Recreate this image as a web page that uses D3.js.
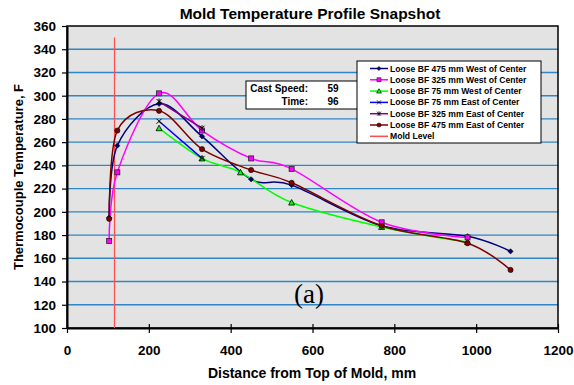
<!DOCTYPE html>
<html>
<head>
<meta charset="UTF-8">
<title>Mold Temperature Profile Snapshot</title>
<style>
  body { margin: 0; background: #fff; }
  svg { font-family: Arial, "Liberation Sans", sans-serif; }
  .lbl { font-size: 13.5px; font-weight: bold; fill: #000; }
  .leg { font-size: 8.6px; font-weight: bold; }
</style>
</head>
<body>
<div id="chart"></div>
<script src="https://d3js.org/d3.v7.min.js"></script>
<script>
// tick labels
const xTicks = [0, 200, 400, 600, 800, 1000, 1200];
const yTicks = d3.range(100, 361, 20);

// thermocouple positions (mm) and temperatures (F)
const w475Dist = [103, 123, 225, 330, 450, 549, 769, 979, 1084];
const w475Temp = [195, 257, 293, 265, 228, 223, 188, 179, 166];
const w325Dist = [103, 123, 225, 330, 450, 549, 769, 979];
const w325Temp = [175, 234, 302, 270, 246, 237, 191, 178];
const w75Dist = [225, 330, 424, 549, 769, 979];
const w75Temp = [272, 246, 234, 208, 187, 174];
const e75Dist = [225, 330];
const e75Temp = [278, 246];
const e325Dist = [225, 330];
const e325Temp = [295, 272];
const e475Dist = [103, 123, 225, 330, 450, 549, 769, 979, 1084];
const e475Temp = [194, 270, 287, 254, 236, 225, 188, 173, 150];

const moldLevel = 114;
const moldTop = 350;

const seriesNames = [
  "Loose BF 475 mm West of Center",
  "Loose BF 325 mm West of Center",
  "Loose BF 75 mm West of Center",
  "Loose BF 75 mm East of Center",
  "Loose BF 325 mm East of Center",
  "Loose BF 475 mm East of Center"
];
const castLabels = ["Cast Speed:", "Time:"];
const castValues = [59, 96];

const series = [
  { name: seriesNames[0], x: w475Dist, y: w475Temp, color: "#000080", mark: "diamond" },
  { name: seriesNames[1], x: w325Dist, y: w325Temp, color: "#ff00ff", mark: "square" },
  { name: seriesNames[2], x: w75Dist, y: w75Temp, color: "#00ff00", mark: "triangle" },
  { name: seriesNames[3], x: e75Dist, y: e75Temp, color: "#0000ff", mark: "x" },
  { name: seriesNames[4], x: e325Dist, y: e325Temp, color: "#800080", mark: "star" },
  { name: seriesNames[5], x: e475Dist, y: e475Temp, color: "#800000", mark: "circle" }
];

const W = 574, H = 385;
const pLeft = 67, pRight = 558, pTop = 26, pBottom = 328;
const moldColor = "#ff4d4d";

const svg = d3.select("#chart").append("svg")
  .attr("width", W).attr("height", H);

const x = d3.scaleLinear().domain([0, 1200]).range([pLeft, pRight]);
const y = d3.scaleLinear().domain([100, 360]).range([pBottom, pTop]);

// plot background
svg.append("rect")
  .attr("x", pLeft).attr("y", pTop)
  .attr("width", pRight - pLeft).attr("height", pBottom - pTop)
  .attr("fill", "#e3e3e3");

// grid
svg.append("g").selectAll("line")
  .data(yTicks.slice(1, -1))
  .enter().append("line")
  .attr("x1", pLeft).attr("x2", pRight)
  .attr("y1", d => y(d)).attr("y2", d => y(d))
  .attr("stroke", "#2f86c6").attr("stroke-width", 1.4);

// frame
svg.append("rect")
  .attr("x", pLeft).attr("y", pTop)
  .attr("width", pRight - pLeft).attr("height", pBottom - pTop)
  .attr("fill", "none").attr("stroke", "#000").attr("stroke-width", 1.5);

// axes
const xAxis = svg.append("g")
  .attr("transform", `translate(0,${pBottom})`)
  .call(d3.axisBottom(x).tickValues(xTicks).tickFormat(d3.format("d"))
    .tickSize(9).tickSizeOuter(0).tickPadding(8));
xAxis.selectAll(".tick line").attr("transform", "translate(0,-4)");
const yAxis = svg.append("g")
  .attr("transform", `translate(${pLeft},0)`)
  .call(d3.axisLeft(y).tickValues(yTicks).tickFormat(d3.format("d"))
    .tickSize(5).tickSizeOuter(0).tickPadding(6));
[xAxis, yAxis].forEach(a => {
  a.select(".domain").attr("stroke", "#000").attr("stroke-width", 2);
  a.selectAll(".tick line").attr("stroke", "#000").attr("stroke-width", 1.2);
  a.selectAll("text").attr("class", "lbl").attr("font-family", "Arial, 'Liberation Sans', sans-serif");
});

// mold level line
svg.append("line")
  .attr("x1", Math.round(x(moldLevel)) + 0.5).attr("x2", Math.round(x(moldLevel)) + 0.5)
  .attr("y1", y(moldTop)).attr("y2", y(100))
  .attr("stroke", moldColor).attr("stroke-width", 1.2);

// cast speed box
const cb = svg.append("g");
cb.append("rect").attr("x", 246).attr("y", 81).attr("width", 112).attr("height", 28)
  .attr("fill", "#fff").attr("stroke", "#000").attr("stroke-width", 1);
castLabels.forEach((t, i) => {
  cb.append("text").attr("x", 308).attr("y", 92 + i * 13)
    .attr("text-anchor", "end").attr("font-size", 10).attr("font-weight", "bold").text(t);
  cb.append("text").attr("x", 333).attr("y", 92 + i * 13)
    .attr("text-anchor", "middle").attr("font-size", 10).attr("font-weight", "bold").text(castValues[i]);
});

// markers
function drawMark(g, kind, color) {
  const s = 2.6;
  if (kind === "diamond") {
    g.append("path").attr("d", `M0,${-s}L${s},0L0,${s}L${-s},0Z`).attr("fill", color).attr("stroke", "#000").attr("stroke-width", 0.6);
  } else if (kind === "square") {
    g.append("rect").attr("x", -2.5).attr("y", -2.5).attr("width", 5).attr("height", 5)
      .attr("fill", color).attr("stroke", "#222").attr("stroke-width", 0.8);
  } else if (kind === "triangle") {
    g.append("path").attr("d", "M0,-3L3,2.5L-3,2.5Z").attr("fill", color).attr("stroke", "#000").attr("stroke-width", 0.8);
  } else if (kind === "x") {
    g.append("path").attr("d", "M-2.5,-2.5L2.5,2.5M-2.5,2.5L2.5,-2.5").attr("stroke", "#000").attr("stroke-width", 1);
  } else if (kind === "star") {
    g.append("path").attr("d", "M-2.5,-2.5L2.5,2.5M-2.5,2.5L2.5,-2.5M0,-3L0,3").attr("stroke", "#000").attr("stroke-width", 1);
  } else {
    g.append("circle").attr("r", 2.6).attr("fill", color).attr("stroke", "#000").attr("stroke-width", 0.6);
  }
}

const line = d3.line().curve(d3.curveCatmullRom.alpha(0));
series.forEach(s => {
  const pts = s.x.map((d, i) => [x(d), y(s.y[i])]);
  svg.append("path").attr("d", line(pts))
    .attr("fill", "none").attr("stroke", s.color).attr("stroke-width", 1.5);
});
series.forEach(s => {
  s.x.forEach((d, i) => {
    drawMark(svg.append("g").attr("transform", `translate(${x(d)},${y(s.y[i])})`), s.mark, s.color);
  });
});

// legend
const lg = svg.append("g");
lg.append("rect").attr("x", 357).attr("y", 61).attr("width", 184).attr("height", 82)
  .attr("fill", "#fff").attr("stroke", "#000").attr("stroke-width", 1);
series.concat([{ name: "Mold Level", color: moldColor, mark: null }]).forEach((s, i) => {
  const yy = 68.5 + i * 11.3;
  lg.append("line").attr("x1", 370).attr("x2", 388).attr("y1", yy).attr("y2", yy)
    .attr("stroke", s.color).attr("stroke-width", 1.5);
  if (s.mark) drawMark(lg.append("g").attr("transform", `translate(379,${yy}) scale(0.8)`), s.mark, s.color);
  lg.append("text").attr("class", "leg").attr("x", 390).attr("y", yy + 3).text(s.name);
});

// text
svg.append("text").attr("x", 310).attr("y", 19).attr("text-anchor", "middle")
  .attr("font-size", 15.5).attr("font-weight", "bold").text("Mold Temperature Profile Snapshot");
svg.append("text").attr("x", 312).attr("y", 378).attr("text-anchor", "middle")
  .attr("font-size", 14).attr("font-weight", "bold").text("Distance from Top of Mold, mm");
svg.append("text").attr("transform", `translate(23,177) rotate(-90)`)
  .attr("text-anchor", "middle").attr("font-size", 13).attr("font-weight", "bold")
  .text("Thermocouple Temperature, F");
svg.append("text").attr("x", 309).attr("y", 303).attr("text-anchor", "middle")
  .attr("font-family", "'Liberation Serif', 'Times New Roman', serif").attr("font-size", 27).text("(a)");
</script>
</body>
</html>
